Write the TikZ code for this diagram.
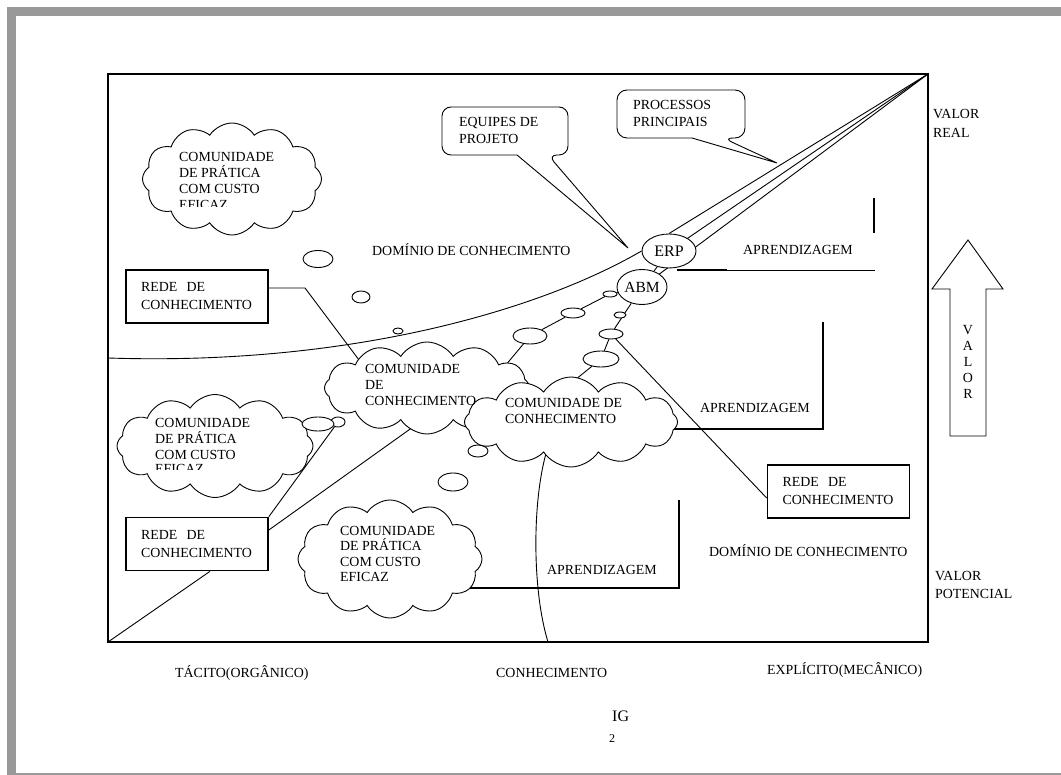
\documentclass[tikz,border=0pt]{standalone}
\usepackage{fontspec}
\setmainfont{Liberation Serif}
\usetikzlibrary{shapes.geometric,shapes.symbols}
\pgfdeclarelayer{back}
\pgfsetlayers{back,main}
\begin{document}
\begin{tikzpicture}[x=1pt,y=-1pt,
  txt/.style={font=\fontsize{13.9}{15.6}\selectfont, inner sep=0pt, anchor=base west, align=left},
  thinline/.style={line width=0.9pt},
  thickline/.style={line width=1.7pt},
  frameline/.style={line width=1.7pt},
  puff/.style={cloud, cloud puffs=12, cloud puff arc=115, cloud ignores aspect, draw, fill=white, line width=0.9pt, inner sep=0pt},
  oval/.style={ellipse, draw, fill=white, line width=0.9pt, inner sep=0pt},
  redebox/.style={draw, fill=white, line width=1.7pt, minimum width=142, minimum height=53, text width=112, inner xsep=15, inner ysep=0, align=left, font=\fontsize{13.9}{18}\selectfont},
  callout/.style={draw, fill=white, line width=0.9pt},
]
\useasboundingbox (0,0) rectangle (1061,775);

% page edge
\fill[black!40] (7,7) rectangle (16,775);
\fill[black!40] (7,7) rectangle (1061,16);
\fill[black!40] (16,773.2) rectangle (1061,775);

% chart frame
\coordinate (tl) at (108,74);
\coordinate (tr) at (928,74);
\coordinate (bl) at (108,642);
\coordinate (br) at (928,642);
\draw[frameline] (tl) rectangle (br);

% clouds
\node[puff, minimum width=179, minimum height=112] (c1) at (232,179) {};
\node[puff, minimum width=196, minimum height=103] (c4) at (215,446) {};
\node[puff, minimum width=184, minimum height=118] (c5) at (390,559) {};
\node[puff, minimum width=205, minimum height=92] (c2) at (427,388) {};
\node[oval, minimum width=14, minimum height=10] (oi) at (338,422) {};
\node[oval, minimum width=20, minimum height=12] (oj) at (478,451) {};
\node[puff, minimum width=213, minimum height=90] (c3) at (571,422) {};

% small bubbles
\node[oval, minimum width=30, minimum height=17] (o1) at (318,259) {};
\node[oval, minimum width=18, minimum height=12] (o2) at (361,297) {};
\node[oval, minimum width=10, minimum height=6] (o3) at (398,331) {};
\node[oval, minimum width=14, minimum height=6] (oa) at (610,294) {};
\node[oval, minimum width=24, minimum height=10] (ob) at (573,313) {};
\node[oval, minimum width=34, minimum height=16] (oc) at (530,336) {};
\node[oval, minimum width=12, minimum height=6] (od) at (620,315) {};
\node[oval, minimum width=24, minimum height=10] (oe) at (611,334) {};
\node[oval, minimum width=36, minimum height=16] (of) at (601,359) {};
\node[oval, minimum width=30, minimum height=18] (og) at (453,482) {};
\node[oval, minimum width=32, minimum height=14] (oh) at (318,424) {};

% systems
\node[oval, minimum width=54, minimum height=34, font=\fontsize{16}{16}\selectfont] (erp) at (669,251) {ERP};
\node[oval, minimum width=50, minimum height=35, font=\fontsize{15.5}{16}\selectfont] (abm) at (642,287) {ABM};

% knowledge networks
\node[redebox] (rede1) at (197,296.5) {REDE~~DE\\CONHECIMENTO};
\node[redebox] (rede2) at (197,544) {REDE~~DE\\CONHECIMENTO};
\node[redebox] (rede3) at (838.5,491.5) {REDE~~DE\\CONHECIMENTO};

% connectors, kept underneath the shapes
\coordinate (c2a) at (500,372);
\coordinate (c2b) at (362,364);
\coordinate (c2c) at (420,422);
\coordinate (c3a) at (560,392);
\coordinate (k1) at (305,288);
\coordinate (ap1a) at (677,270);
\coordinate (ap1b) at (727,270);
\coordinate (ap1c) at (875,270);
\coordinate (ap1d) at (874,198);
\coordinate (ap1e) at (874,233);
\coordinate (ap2a) at (660,429);
\coordinate (ap2b) at (823,429);
\coordinate (ap2c) at (823,322);
\coordinate (ap3a) at (450,588);
\coordinate (ap3b) at (679,588);
\coordinate (ap3c) at (679,500);
\coordinate (k2) at (547,450);
\coordinate (k3) at (548,642);
\begin{pgfonlayer}{back}
  \draw[thinline] (108,358) .. controls (350,366) and (540,310) .. (erp.west);
  \draw[thinline] (tr) -- (erp.north);
  \draw[thinline] (tr) -- (erp.center);
  \draw[thinline] (tr) -- (abm.center);
  \draw[thinline] (erp) -- (abm);
  \draw[thinline] (abm) -- (oa) -- (ob) -- (oc) -- (c2a);
  \draw[thinline] (abm) -- (oe) -- (of) -- (c3a);
  \draw[thinline] (oe) -- ([yshift=-6.5pt]rede3.west);
  \draw[thinline] ([yshift=8.5pt]rede1.east) -- (k1) -- (c2b);
  \draw[thinline] (rede2.north east) -- (oi);
  \draw[thinline] ([yshift=14pt]rede2.east) -- (c2c);
  \draw[thinline] ([xshift=13pt]rede2.south) -- (bl);
  \draw[thickline] (ap1a) -- (ap1b);
  \draw[thinline] (ap1b) -- (ap1c);
  \draw[thickline] (ap1d) -- (ap1e);
  \draw[thickline] (ap2a) -- (ap2b) -- (ap2c);
  \draw[thickline] (ap3a) -- (ap3b) -- (ap3c);
  \draw[thinline] (k2) .. controls (532,500) and (532,590) .. (k3);
\end{pgfonlayer}

% speech callouts
\draw[callout] (628,248) -- (517,155) [rounded corners=9pt] -- (442,155) -- (442,107) -- (568,107) -- (568,155) -- (548,155) [sharp corners] -- cycle;
\draw[callout] (777,163) -- (692,138) [rounded corners=10pt] -- (617,138) -- (617,90) -- (745,90) -- (745,138) -- (723,138) [sharp corners] -- cycle;
\node[txt, font=\fontsize{13.9}{16.5}\selectfont] (equipes) at (459,143.5) {EQUIPES DE\\PROJETO};
\node[txt, font=\fontsize{13.9}{17}\selectfont] (processos) at (633,127) {PROCESSOS\\PRINCIPAIS};

% value arrow
\draw[thinline, fill=white] (968,240) -- (1003,289) -- (986,289) -- (986,436) -- (950,436) -- (950,289) -- (932,289) -- cycle;
\node[font=\fontsize{13.9}{16}\selectfont, align=center, inner sep=0pt] (valor) at (968,362) {V\\A\\L\\O\\R};

% cloud texts
\node[txt] (t1) at (179,193.2) {COMUNIDADE\\DE PRÁTICA\\COM CUSTO};
\begin{scope}
  \clip (170,196) rectangle (300,207);
  \node[txt] (t1b) at (179,209.5) {EFICAZ};
\end{scope}
\node[txt] (t4) at (155,459.2) {COMUNIDADE\\DE PRÁTICA\\COM CUSTO};
\begin{scope}
  \clip (150,462) rectangle (300,470);
  \node[txt] (t4b) at (155,474) {EFICAZ};
\end{scope}
\node[txt] (t5) at (340,581.8) {COMUNIDADE\\DE PRÁTICA\\COM CUSTO\\EFICAZ};
\node[txt] (t2) at (365,405.2) {COMUNIDADE\\DE\\CONHECIMENTO};
\node[txt] (t3) at (505,423.6) {COMUNIDADE DE\\CONHECIMENTO};

% labels
\node[txt] (dom1) at (372,256) {DOMÍNIO DE CONHECIMENTO};
\node[txt] (dom2) at (709,557) {DOMÍNIO DE CONHECIMENTO};
\node[txt] (apr1) at (743,255) {APRENDIZAGEM};
\node[txt] (apr2) at (700,413) {APRENDIZAGEM};
\node[txt] (apr3) at (547,574) {APRENDIZAGEM};
\node[txt, font=\fontsize{13.9}{19}\selectfont] (vreal) at (933,138) {VALOR\\REAL};
\node[txt, font=\fontsize{13.9}{18}\selectfont] (vpot) at (935,598) {VALOR\\POTENCIAL};
\node[txt] (tacito) at (175,677) {TÁCITO(ORGÂNICO)};
\node[txt] (conh) at (496,677) {CONHECIMENTO};
\node[txt] (explicito) at (767,674) {EXPLÍCITO(MECÂNICO)};
\node[txt, font=\fontsize{16}{17}\selectfont] (ig) at (612,721) {IG};
\node[txt, font=\fontsize{12}{13}\selectfont] (num) at (609,742) {2};
\end{tikzpicture}
\end{document}
